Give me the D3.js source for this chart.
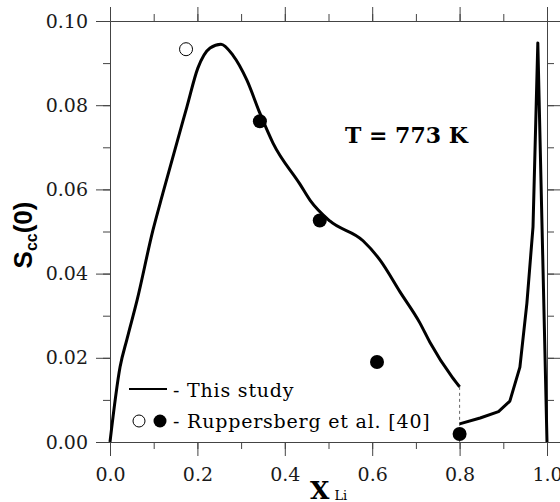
<!DOCTYPE html>
<html lang="en">
<head>
<meta charset="UTF-8">
<title>Scc(0) vs x Li</title>
<style>
  body { margin: 0; background: #fff; }
  svg { display: block; }
  .tick text { font-family: 'DejaVu Serif', serif; font-size: 19px; fill: #1a1a1a; }
  .axis path, .axis line { stroke: #444; stroke-width: 1; }
</style>
</head>
<body>
<svg id="chart" width="560" height="502"></svg>
<script src="https://d3js.org/d3.v7.min.js"></script>
<script>
  // calculated curve, Li-poor branch (x < 0.8)
  const curveX1 = [0, 0.023, 0.039, 0.062, 0.098, 0.121, 0.176, 0.201, 0.229, 0.254, 0.281, 0.313, 0.343, 0.373, 0.435, 0.458, 0.503, 0.579, 0.618, 0.664, 0.709, 0.732, 0.783, 0.8]
  const curveY1 = [0, 0.0178, 0.0245, 0.0337, 0.0502, 0.0591, 0.0796, 0.0888, 0.0936, 0.0945, 0.0919, 0.086, 0.0781, 0.071, 0.0612, 0.0574, 0.0525, 0.0478, 0.0432, 0.0356, 0.0283, 0.0237, 0.0154, 0.0131]

  // calculated curve, Li-rich branch (x >= 0.8)
  const curveX2 = [0.8, 0.847, 0.889, 0.915, 0.938, 0.954, 0.968, 0.979, 1.0]
  const curveY2 = [0.0043, 0.0057, 0.0072, 0.0097, 0.0178, 0.033, 0.0511, 0.0948, 0]

  // Ruppersberg et al. [40]
  const openX = [0.174]
  const openY = [0.0933]
  const fillX = [0.343, 0.48, 0.611, 0.8]
  const fillY = [0.0762, 0.0526, 0.019, 0.0019]

  const xTicks = [0, 0.2, 0.4, 0.6, 0.8, 1.0]
  const yTicks = [0, 0.02, 0.04, 0.06, 0.08, 0.10]

  const svg = d3.select('#chart')
  const x = d3.scaleLinear().domain([0, 1]).range([110, 547])
  const y = d3.scaleLinear().domain([0, 0.1]).range([442, 21])

  const xMinor = d3.range(0, 1.0001, 0.1)
  const yMinor = d3.range(0, 0.10001, 0.01)

  // minor ticks first, then the labelled major ticks on top
  function drawAxis(axisFn, scale, transform, major, fmt) {
    svg.append('g').attr('class', 'axis').attr('transform', transform)
      .call(axisFn(scale).tickValues(scale === x ? xMinor : yMinor).tickSize(7).tickFormat('').tickSizeOuter(0))
    const g = svg.append('g').attr('class', 'axis').attr('transform', transform)
      .call(axisFn(scale).tickValues(major).tickSize(14).tickFormat(fmt).tickSizeOuter(0))
    return g
  }

  drawAxis(d3.axisBottom, x, 'translate(0,442)', xTicks, d3.format('.1f'))
    .selectAll('.tick text').attr('y', 26).attr('dy', '0.71em')
  drawAxis(d3.axisLeft, y, 'translate(110,0)', yTicks, d3.format('.2f'))
    .selectAll('.tick text').attr('x', -22)
  drawAxis(d3.axisTop, x, 'translate(0,21)', xTicks, '')
  drawAxis(d3.axisRight, y, 'translate(547,0)', yTicks, '')

  // thin guide at x = 0.8 between the two branches
  svg.append('line')
    .attr('x1', x(0.8)).attr('x2', x(0.8))
    .attr('y1', y(curveY1[curveY1.length - 1])).attr('y2', y(0))
    .attr('stroke', '#666').attr('stroke-width', 1).attr('stroke-dasharray', '3,3')

  const smooth = d3.line().x(d => x(d[0])).y(d => y(d[1])).curve(d3.curveMonotoneX)
  const straight = d3.line().x(d => x(d[0])).y(d => y(d[1]))
  ;[[curveX1, curveY1, smooth], [curveX2, curveY2, straight]].forEach(([xs, ys, gen]) => {
    svg.append('path')
      .datum(xs.map((v, i) => [v, ys[i]]))
      .attr('d', gen)
      .attr('fill', 'none')
      .attr('stroke', '#000')
      .attr('stroke-width', 3)
      .attr('stroke-linejoin', 'round')
  })

  svg.selectAll('.open').data(openX).join('circle')
    .attr('class', 'open')
    .attr('cx', d => x(d)).attr('cy', (d, i) => y(openY[i])).attr('r', 6.5)
    .attr('fill', '#fff').attr('stroke', '#000').attr('stroke-width', 1)

  svg.selectAll('.filled').data(fillX).join('circle')
    .attr('class', 'filled')
    .attr('cx', d => x(d)).attr('cy', (d, i) => y(fillY[i])).attr('r', 7)
    .attr('fill', '#000')

  // temperature note
  svg.append('text')
    .attr('x', 345).attr('y', 143)
    .attr('font-family', 'DejaVu Serif').attr('font-weight', 'bold').attr('font-size', 22)
    .text('T = 773 K')

  // legend
  const lg = svg.append('g').attr('font-family', 'DejaVu Serif').attr('font-size', 19).attr('letter-spacing', 0.8)
  lg.append('line').attr('x1', 129).attr('x2', 167).attr('y1', 389).attr('y2', 389)
    .attr('stroke', '#000').attr('stroke-width', 2)
  lg.append('text').attr('x', 173).attr('y', 397).text('- This study')
  lg.append('circle').attr('cx', 139).attr('cy', 421).attr('r', 6)
    .attr('fill', '#fff').attr('stroke', '#000').attr('stroke-width', 1)
  lg.append('circle').attr('cx', 160).attr('cy', 421).attr('r', 6.5).attr('fill', '#000')
  lg.append('text').attr('x', 173).attr('y', 428).text('- Ruppersberg et al. [40]')

  // axis titles
  const xt = svg.append('text').attr('x', 310).attr('y', 499).attr('font-family', 'DejaVu Serif')
  xt.append('tspan').attr('font-weight', 'bold').attr('font-size', 25).text('X')
  xt.append('tspan').attr('font-size', 13).attr('dx', 5).attr('dy', 1).text('Li')

  const yt = svg.append('text')
    .attr('transform', 'translate(32,235) rotate(-90)')
    .attr('text-anchor', 'middle')
    .attr('font-family', 'Liberation Sans').attr('font-weight', 'bold').attr('font-size', 26)
  yt.append('tspan').text('S')
  yt.append('tspan').attr('font-size', 16).attr('dy', 5).text('cc')
  yt.append('tspan').attr('dy', -5).text('(0)')
</script>
</body>
</html>
